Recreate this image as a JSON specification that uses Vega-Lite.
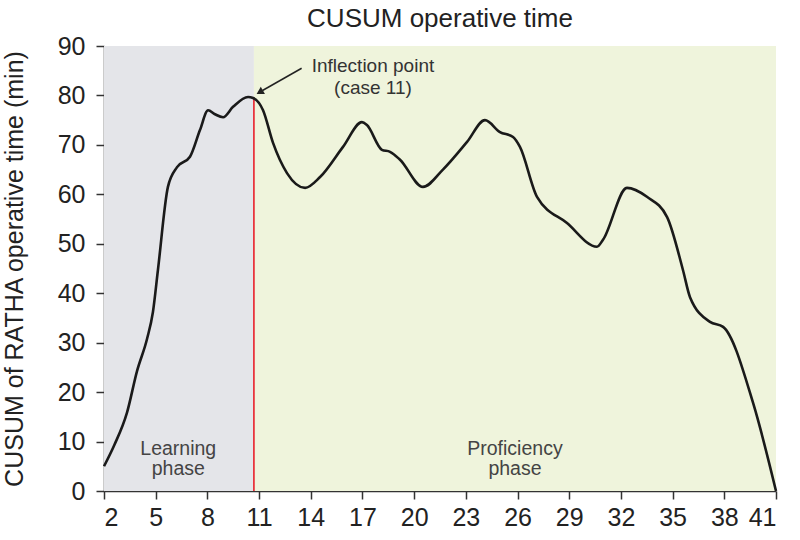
{
  "$schema": "https://vega.github.io/schema/vega-lite/v6.json",
  "width": 672,
  "height": 445,
  "autosize": "none",
  "padding": {"left": 104, "top": 46, "right": 24, "bottom": 49},
  "background": "white",
  "title": {"text": "CUSUM operative time", "font": "Liberation Sans", "fontSize": 26, "fontWeight": "normal", "color": "#222", "offset": 2},
  "config": {
    "view": {"stroke": null},
    "axis": {
      "grid": false, "labelFont": "Liberation Sans", "titleFont": "Liberation Sans",
      "labelFontSize": 25, "titleFontSize": 25, "titleFontWeight": "normal",
      "labelColor": "#222", "titleColor": "#222",
      "domainColor": "#333", "tickColor": "#333", "domainWidth": 1.5, "tickWidth": 1.5, "tickSize": 8
    }
  },
  "layer": [
    {
      "data": {"values": [
        {"phase": "Learning", "start": 2, "end": 10.7},
        {"phase": "Proficiency", "start": 10.7, "end": 41}
      ]},
      "mark": {"type": "rect"},
      "encoding": {
        "x": {"field": "start", "type": "quantitative", "scale": {"domain": [2, 41], "nice": false, "zero": false},
          "axis": {"values": [2, 5, 8, 11, 14, 17, 20, 23, 26, 29, 32, 35, 38, 41], "labelPadding": 6, "title": null}},
        "x2": {"field": "end"},
        "y": {"datum": 0, "type": "quantitative", "scale": {"domain": [0, 90], "nice": false},
          "axis": {"values": [0, 10, 20, 30, 40, 50, 60, 70, 80, 90], "labelPadding": 11, "titlePadding": 30, "title": "CUSUM of RATHA operative time (min)"}},
        "y2": {"datum": 90},
        "color": {"field": "phase", "type": "nominal", "scale": {"domain": ["Learning", "Proficiency"], "range": ["#e4e5e9", "#eff4dc"]}, "legend": null}
      }
    },
    {
      "data": {"values": [{"case": 10.7, "low": 0, "high": 79.5}]},
      "mark": {"type": "rule", "color": "#e8202a", "strokeWidth": 1.6},
      "encoding": {
        "x": {"field": "case", "type": "quantitative"},
        "y": {"field": "low", "type": "quantitative"},
        "y2": {"field": "high"}
      }
    },
    {
      "data": {"values": [
        {"case": 2, "cusum": 5},
        {"case": 2.6, "cusum": 9.3},
        {"case": 3.33, "cusum": 15.8},
        {"case": 3.92, "cusum": 24.3},
        {"case": 4.5, "cusum": 30.8},
        {"case": 4.84, "cusum": 36.2},
        {"case": 5.13, "cusum": 44.7},
        {"case": 5.71, "cusum": 61.5},
        {"case": 6.24, "cusum": 65.5},
        {"case": 6.99, "cusum": 67.6},
        {"case": 7.57, "cusum": 73},
        {"case": 8.04, "cusum": 77},
        {"case": 8.44, "cusum": 76.2},
        {"case": 8.91, "cusum": 75.6},
        {"case": 9.49, "cusum": 77.7},
        {"case": 10.36, "cusum": 79.7},
        {"case": 10.65, "cusum": 79.5},
        {"case": 11.23, "cusum": 77},
        {"case": 11.81, "cusum": 70.4},
        {"case": 12.62, "cusum": 64.3},
        {"case": 13.67, "cusum": 61.3},
        {"case": 14.54, "cusum": 63.5},
        {"case": 15.87, "cusum": 69.6},
        {"case": 16.97, "cusum": 74.6},
        {"case": 17.26, "cusum": 74},
        {"case": 18.13, "cusum": 69},
        {"case": 18.6, "cusum": 68.6},
        {"case": 19.18, "cusum": 67},
        {"case": 20.51, "cusum": 61.5},
        {"case": 21.67, "cusum": 65},
        {"case": 23.07, "cusum": 70.6},
        {"case": 24.11, "cusum": 75},
        {"case": 24.98, "cusum": 72.6},
        {"case": 25.74, "cusum": 71.6},
        {"case": 26.14, "cusum": 69.6},
        {"case": 27.13, "cusum": 59.5},
        {"case": 28.87, "cusum": 54.2},
        {"case": 30.61, "cusum": 49.4},
        {"case": 30.96, "cusum": 50.8},
        {"case": 32.35, "cusum": 61.3},
        {"case": 33.51, "cusum": 59.5},
        {"case": 34.68, "cusum": 55.4},
        {"case": 35.6, "cusum": 44.7},
        {"case": 36.01, "cusum": 39.2},
        {"case": 37.17, "cusum": 34.2},
        {"case": 37.93, "cusum": 33.2},
        {"case": 39.67, "cusum": 17.8},
        {"case": 41, "cusum": 0}
      ]},
      "mark": {"type": "line", "interpolate": "monotone", "color": "#1a1a1a", "strokeWidth": 2.6},
      "encoding": {
        "x": {"field": "case", "type": "quantitative"},
        "y": {"field": "cusum", "type": "quantitative"}
      }
    },
    {
      "data": {"values": [{"x0": 13.47, "y0": 85.5, "x1": 11.2, "y1": 81.0}]},
      "mark": {"type": "rule", "color": "#222", "strokeWidth": 1.5},
      "encoding": {
        "x": {"field": "x0", "type": "quantitative"},
        "y": {"field": "y0", "type": "quantitative"},
        "x2": {"field": "x1"},
        "y2": {"field": "y1"}
      }
    },
    {
      "data": {"values": [{"x": 11.1, "y": 80.8}]},
      "mark": {"type": "point", "shape": "triangle", "filled": true, "color": "#222", "size": 70, "angle": 240, "opacity": 1},
      "encoding": {
        "x": {"field": "x", "type": "quantitative"},
        "y": {"field": "y", "type": "quantitative"}
      }
    },
    {
      "data": {"values": [
        {"x": 17.61, "y": 84.8, "label": "Inflection point"},
        {"x": 17.61, "y": 80.2, "label": "(case 11)"}
      ]},
      "mark": {"type": "text", "font": "Liberation Sans", "fontSize": 19, "color": "#333", "align": "center", "baseline": "alphabetic"},
      "encoding": {
        "x": {"field": "x", "type": "quantitative"},
        "y": {"field": "y", "type": "quantitative"},
        "text": {"field": "label"}
      }
    },
    {
      "data": {"values": [
        {"x": 6.31, "y": 7.28, "label": "Learning"},
        {"x": 6.31, "y": 3.24, "label": "phase"},
        {"x": 25.85, "y": 7.28, "label": "Proficiency"},
        {"x": 25.85, "y": 3.24, "label": "phase"}
      ]},
      "mark": {"type": "text", "font": "Liberation Sans", "fontSize": 19.5, "color": "#444", "align": "center", "baseline": "alphabetic"},
      "encoding": {
        "x": {"field": "x", "type": "quantitative"},
        "y": {"field": "y", "type": "quantitative"},
        "text": {"field": "label"}
      }
    }
  ]
}
